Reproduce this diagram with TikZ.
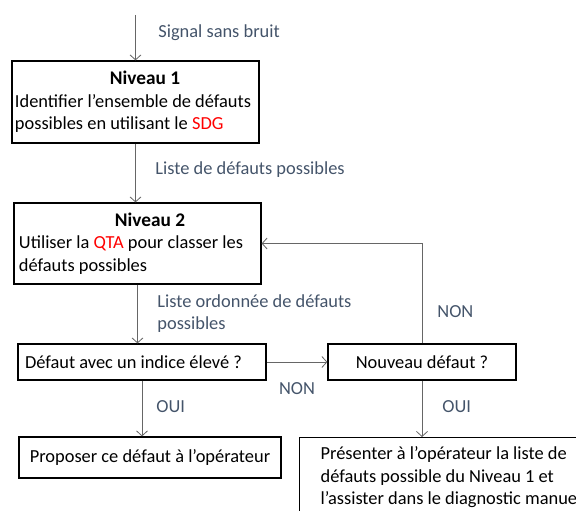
\documentclass[tikz,border=0pt]{standalone}
\usepackage{fontspec}
\setmainfont{Carlito}
\usetikzlibrary{arrows.meta}
\definecolor{labgray}{HTML}{44546A}
\definecolor{redtxt}{HTML}{FF0000}
\newcommand{\levelhead}[2]{{\centering\hspace*{#1}{\fontsize{19.3}{22.5}\selectfont\bfseries #2}\par}}

\begin{document}
\begin{tikzpicture}[x=1pt, y=-1pt, font=\fontsize{18.4}{22.5}\selectfont,
        box/.style={draw, line width=1.2pt, inner sep=3pt},
        arr/.style={draw=black!60, line width=0.8pt, -{Straight Barb[length=5pt,width=11pt]}},
        lab/.style={text=labgray, anchor=west, align=flush left, inner sep=0pt}]
        \useasboundingbox (0,0) rectangle (576,511);
        \clip (0,0) rectangle (576,511);

        \coordinate (in) at (135.5, 15);
        \node[box, minimum width=247pt, minimum height=82pt, text width=241pt, align=flush left] (niv1) at (135.5, 102) {\levelhead{19pt}{Niveau 1}Identifier l’ensemble de défauts\\possibles en utilisant le \textcolor{redtxt}{SDG}};
        \node[box, minimum width=247pt, minimum height=81pt, text width=237pt, inner xsep=5pt, align=flush left] (niv2) at (137.5, 243.5) {\levelhead{25pt}{Niveau 2}Utiliser la \textcolor{redtxt}{QTA} pour classer les\\défauts possibles};
        \node[box, minimum width=248pt, minimum height=36pt, text width=234pt, inner xsep=7pt, align=flush left] (indice) at (142, 362) {Défaut avec un indice élevé ?};
        \node[box, minimum width=188pt, minimum height=36pt] (nouveau) at (422, 362) {Nouveau défaut ?};
        \node[box, minimum width=262pt, minimum height=41pt] (proposer) at (150, 457.5) {Proposer ce défaut à l’opérateur};
        \node[box, anchor=north west, text width=275pt, inner xsep=21pt, inner ysep=9pt, align=flush left] (presenter) at (299, 437) {Présenter à l’opérateur la liste de\\défauts possible du Niveau 1 et\\l’assister dans le diagnostic manuel};

        \draw[arr] (in) -- node[lab, pos=0.39, xshift=22.5pt] {Signal sans bruit} (niv1.north);
        \draw[arr] (niv1.south) -- node[lab, pos=0.45, xshift=19.5pt] {Liste de défauts possibles} (niv1.south |- niv2.north);
        \draw[arr] (niv2.south) -- node[lab, pos=0.49, xshift=19.5pt] {Liste ordonnée de défauts\\possibles} (niv2.south |- indice.north);
        \draw[arr] (indice.south) -- node[lab, pos=0.47, xshift=14pt] {OUI} (indice.south |- proposer.north);
        \draw[arr] (indice.east) -- node[lab, below=20pt] {NON} (nouveau.west);
        \draw[arr] (nouveau.north) |- node[lab, pos=0.16, xshift=15pt] {NON} (niv2.east);
        \draw[arr] (nouveau.south) -- node[lab, pos=0.46, xshift=20pt] {OUI} (nouveau.south |- presenter.north);
    \end{tikzpicture}
\end{document}
